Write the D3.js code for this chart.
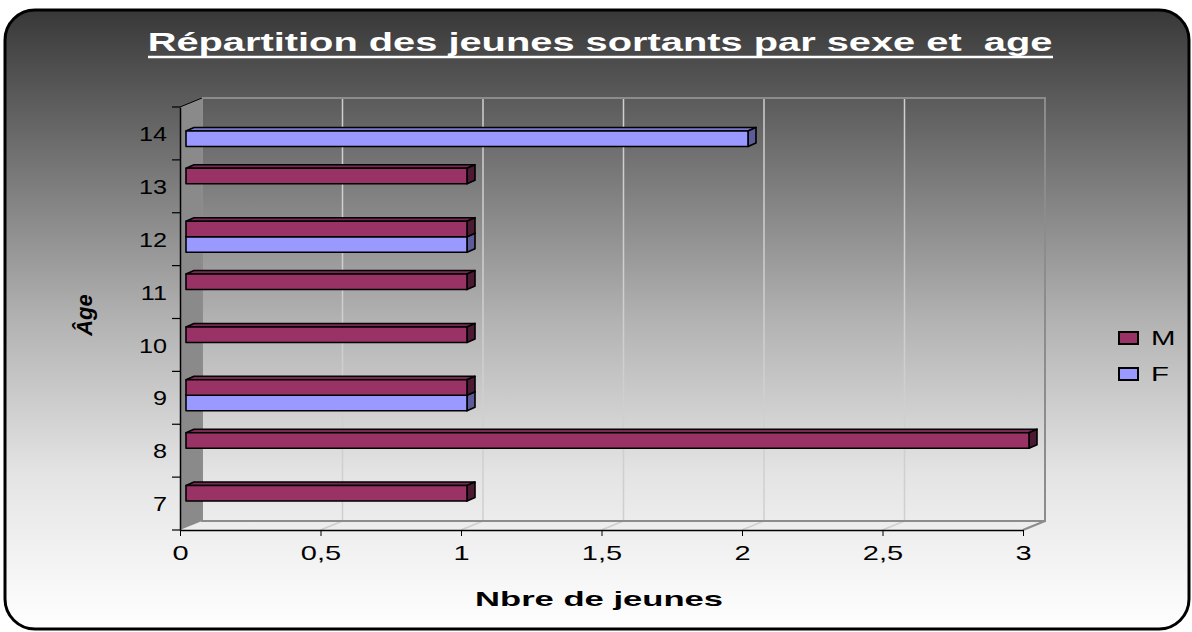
<!DOCTYPE html>
<html>
<head>
<meta charset="utf-8">
<script src="https://cdn.jsdelivr.net/npm/d3@7"></script>
<style>
body{margin:0;background:#fff;}
svg{display:block;font-family:Arial,"Liberation Sans",sans-serif;}
</style>
</head>
<body>
<svg id="chart" width="1192" height="632"></svg>
<script>
var ages = ["7","8","9","10","11","12","13","14"];
var series = ["M","F"];
var valuesM = [1,3,1,1,1,1,1,0];
var valuesF = [0,0,1,0,0,1,0,2];
var xTicks = [0,0.5,1,1.5,2,2.5,3];
var colours = {M:"#993366",F:"#9999ff"};
var topColours = {M:"#7a2952",F:"#7a7acc"};
var sideColours = {M:"#4d1a33",F:"#5c5c99"};

var svg = d3.select("#chart");
var fmt = function(d){return String(d).replace(".",",");};

// stretched text, like the original's wide glyphs
function wideText(parent, cx, cy, str, size, weight, width){
  var t = parent.append("text").attr("text-anchor","middle")
    .attr("font-size",size).attr("font-weight",weight).style("white-space","pre").text(str);
  var w = t.node().getComputedTextLength();
  t.attr("transform","translate("+cx+","+cy+") scale("+(width/w)+",1)");
  return t;
}

// background gradient
var defs = svg.append("defs");
var grad = defs.append("linearGradient").attr("id","bg").attr("x1",0).attr("y1",0).attr("x2",0).attr("y2",1);
grad.append("stop").attr("offset","0%").attr("stop-color","#383838");
grad.append("stop").attr("offset","50%").attr("stop-color","#b2b2b2");
grad.append("stop").attr("offset","75%").attr("stop-color","#e4e4e4");
grad.append("stop").attr("offset","100%").attr("stop-color","#ffffff");

svg.append("rect").attr("x",5).attr("y",10).attr("width",1184).attr("height",619)
  .attr("rx",30).attr("ry",30).attr("fill","url(#bg)").attr("stroke","#000").attr("stroke-width",3);

// scales
var x = d3.scaleLinear().domain([0,3]).range([180,1023]);
var y = d3.scaleBand().domain(ages.slice().reverse()).range([107,530]);
var depth = {dx:22, dy:-9};
var yTop = 107, yBot = 530;

// side wall
svg.append("path")
  .attr("d","M"+x(0)+","+yTop+"L"+(x(0)+depth.dx)+","+(yTop+depth.dy)+"L"+(x(0)+depth.dx)+","+(yBot+depth.dy)+"L"+x(0)+","+yBot+"Z")
  .attr("fill","#8a8a8a");

// back wall gridlines
var g = svg.append("g");
g.selectAll("line.grid").data(xTicks.slice(1,-1)).enter().append("line")
  .attr("x1",function(d){return x(d)+depth.dx;}).attr("x2",function(d){return x(d)+depth.dx;})
  .attr("y1",yTop+depth.dy).attr("y2",yBot+depth.dy)
  .attr("stroke","#cfcfcf").attr("stroke-width",1.5);
// floor gridlines
g.selectAll("line.floor").data(xTicks.slice(1,-1)).enter().append("line")
  .attr("x1",function(d){return x(d);}).attr("x2",function(d){return x(d)+depth.dx;})
  .attr("y1",yBot).attr("y2",yBot+depth.dy)
  .attr("stroke","#cfcfcf").attr("stroke-width",1.5);
// back wall frame
g.append("rect").attr("x",x(0)+depth.dx).attr("y",yTop+depth.dy)
  .attr("width",x(3)-x(0)).attr("height",yBot-yTop)
  .attr("fill","none").attr("stroke","#8c8c8c").attr("stroke-width",2);
g.append("line").attr("x1",x(3)).attr("y1",yBot).attr("x2",x(3)+depth.dx).attr("y2",yBot+depth.dy)
  .attr("stroke","#8c8c8c").attr("stroke-width",2);
g.append("line").attr("x1",x(0)).attr("y1",yTop).attr("x2",x(0)+depth.dx).attr("y2",yTop+depth.dy)
  .attr("stroke","#000").attr("stroke-width",1);

// bars
var inner = d3.scaleBand().domain(series).range([-15.5,15.5]);
var bx = 6, by = -2.5, bdx = 8, bdy = -3.5;
var rows = [];
ages.forEach(function(a,i){
  // draw F first so M covers its top face
  if(valuesF[i]>0) rows.push({age:a,s:"F",v:valuesF[i]});
  if(valuesM[i]>0) rows.push({age:a,s:"M",v:valuesM[i]});
});
var bar = svg.append("g").selectAll("g.bar").data(rows).enter().append("g").attr("class","bar")
  .attr("stroke","#000").attr("stroke-width",1.6).attr("stroke-linejoin","round");
function geom(d){
  var x0 = x(0)+bx, x1 = x(d.v)+bx;
  var y0 = y(d.age)+y.bandwidth()/2+by+inner(d.s), y1 = y0+inner.bandwidth();
  return {x0:x0,x1:x1,y0:y0,y1:y1};
}
bar.append("path").attr("fill",function(d){return topColours[d.s];})
  .attr("d",function(d){var b=geom(d);
    return "M"+b.x0+","+b.y0+"L"+(b.x0+bdx)+","+(b.y0+bdy)+"L"+(b.x1+bdx)+","+(b.y0+bdy)+"L"+b.x1+","+b.y0+"Z";});
bar.append("path").attr("fill",function(d){return sideColours[d.s];})
  .attr("d",function(d){var b=geom(d);
    return "M"+b.x1+","+b.y0+"L"+(b.x1+bdx)+","+(b.y0+bdy)+"L"+(b.x1+bdx)+","+(b.y1+bdy)+"L"+b.x1+","+b.y1+"Z";});
bar.append("rect").attr("fill",function(d){return colours[d.s];})
  .attr("x",function(d){return geom(d).x0;}).attr("y",function(d){return geom(d).y0;})
  .attr("width",function(d){var b=geom(d);return b.x1-b.x0;})
  .attr("height",inner.bandwidth());

// axes
var xAxis = svg.append("g").attr("transform","translate(0,"+yBot+")")
  .call(d3.axisBottom(x).tickValues(xTicks).tickFormat(fmt).tickSizeInner(6).tickSizeOuter(0).tickPadding(10));
xAxis.select(".domain").attr("stroke","#000").attr("stroke-width",1.5);
xAxis.selectAll(".tick line").attr("stroke","#000");
xAxis.selectAll("text").attr("font-size",20).attr("fill","#000")
  .attr("font-family","Arial,'Liberation Sans',sans-serif")
  .attr("transform","scale(1.45,1)");

var yAxis = svg.append("g").attr("transform","translate("+x(0)+",0)")
  .call(d3.axisLeft(y).tickSize(0).tickPadding(14));
yAxis.select(".domain").attr("stroke","#000").attr("stroke-width",1.5);
yAxis.selectAll("text").attr("font-size",21).attr("fill","#000").attr("dy","0.36em")
  .attr("font-family","Arial,'Liberation Sans',sans-serif")
  .attr("x",-13/1.2).attr("transform","scale(1.2,1)");
// ticks at band boundaries
var bounds = y.domain().map(function(d){return y(d);}).concat([yBot]);
svg.append("g").selectAll("line").data(bounds).enter().append("line")
  .attr("x1",x(0)-8).attr("x2",x(0)).attr("y1",function(d){return d;}).attr("y2",function(d){return d;})
  .attr("stroke","#000").attr("stroke-width",1.2);

// title
wideText(svg, 600, 51, "Répartition des jeunes sortants par sexe et  age", 25, "bold", 905).attr("fill","#fff");
svg.append("line").attr("x1",148).attr("x2",1053).attr("y1",57).attr("y2",57)
  .attr("stroke","#fff").attr("stroke-width",2.5);

// axis titles
wideText(svg, 599, 606, "Nbre de jeunes", 21, "bold", 248);
svg.append("text").attr("transform","translate(92,315) rotate(-90)").attr("text-anchor","middle")
  .attr("font-size",22).attr("font-weight","bold").attr("font-style","italic")
  .text("Âge");

// legend
var legend = svg.append("g").selectAll("g").data(series).enter().append("g")
  .attr("transform",function(d,i){return "translate(1119,"+(332+i*36)+")";});
legend.append("rect").attr("width",19).attr("height",12)
  .attr("fill",function(d){return colours[d];}).attr("stroke","#000").attr("stroke-width",2);
legend.append("text").attr("transform","translate(32,13) scale(1.4,1)").attr("font-size",21)
  .text(function(d){return d;});
</script>
</body>
</html>
